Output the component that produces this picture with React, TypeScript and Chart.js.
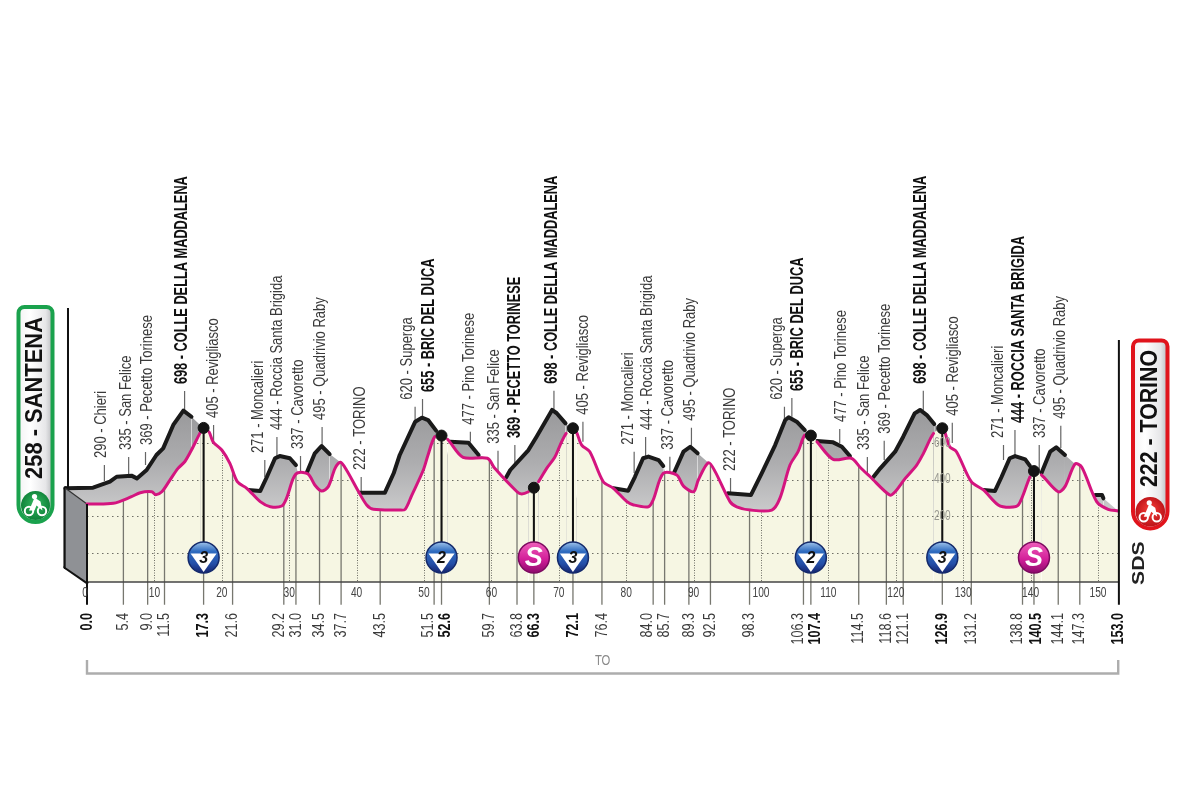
import React, { useEffect, useRef } from "react";
import { Chart, registerables } from "chart.js";

Chart.register(...registerables);

// ---------- data (km / metres) ----------
const routeKm = [0, 3.9, 6.6, 7.9, 9.6, 10.2, 11.1, 12.3, 13.5, 14.5, 15.5, 16.8, 17.3, 18.1, 18.7, 20, 21.2, 22.3, 23.7, 25.7, 27.2, 28.9, 29.6, 30.6, 31.3, 32.8, 33.8, 34.8, 35.8, 36.8, 37.6, 38.5, 40.3, 41.5, 42.5, 46.4, 47.2, 48.2, 49.9, 50.6, 51.6, 52.6, 53.5, 55.8, 59.4, 60.5, 63.8, 64.5, 65.5, 66.3, 67, 68.2, 69.4, 70.2, 71.1, 72.1, 72.6, 73.4, 74.6, 76.6, 78.1, 80.1, 81.1, 83.3, 84, 85.5, 87.5, 88.5, 90, 90.7, 92.2, 93.2, 95.4, 96.4, 98.4, 101.6, 102.8, 104.3, 105.5, 106.5, 107.4, 108.3, 110.7, 113.4, 114.7, 116.2, 119.1, 119.9, 121.4, 123.1, 124.1, 125.6, 126.9, 127.3, 128, 129, 131.2, 133, 135.2, 136.9, 138.2, 139.9, 140.5, 141.6, 144.1, 145.1, 146.6, 147.6, 149.8, 151.5, 153];
const routeAlt = [266, 270, 306, 328, 333, 317, 333, 397, 461, 497, 561, 656, 682, 661, 606, 561, 488, 388, 352, 279, 251, 255, 297, 406, 437, 430, 370, 337, 361, 461, 494, 452, 333, 261, 237, 233, 237, 315, 452, 534, 634, 640, 620, 521, 516, 461, 333, 321, 333, 355, 388, 461, 521, 588, 652, 680, 661, 588, 552, 388, 352, 279, 261, 251, 288, 434, 425, 364, 333, 397, 492, 443, 279, 251, 233, 233, 297, 479, 552, 643, 640, 606, 510, 516, 467, 415, 315, 333, 406, 479, 543, 652, 680, 656, 579, 552, 388, 343, 261, 248, 261, 415, 446, 425, 333, 361, 485, 467, 279, 237, 228];

const ridgeKm = [-3.2, 0.9, 3.4, 4.4, 6.6, 7.4, 8.85, 10.3, 11.3, 12.8, 14.3, 15.5, 17.25, 18.5, 23.9, 25.7, 26.7, 27.9, 28.6, 30.1, 31, 31.3, 32, 32.6, 33.8, 34.8, 36, 37.6, 38.5, 40.3, 44.2, 45.5, 46.4, 48.7, 49.7, 50.6, 51.8, 52.5, 53.2, 53.9, 56.6, 58.1, 59.4, 60, 62.2, 62.8, 65.5, 66.7, 69, 69.7, 71, 71.8, 72.6, 78.1, 80.3, 81.3, 82.5, 83.3, 84.8, 85.5, 85.8, 86.5, 87.1, 88.5, 89.5, 90.6, 92.2, 93, 95.1, 98.5, 100.1, 102.1, 103.6, 104.1, 105.3, 106.5, 107.5, 107.9, 108.3, 110.7, 112, 113.2, 113.4, 114.2, 116.7, 117.7, 119.9, 121.1, 122.8, 123.6, 124.6, 125.7, 126.5, 127.3, 133, 134.7, 135.7, 136.9, 137.7, 139.2, 139.9, 140.6, 141, 141.6, 142.9, 143.8, 145.1, 146.6, 147.3, 149.6, 150.6, 150.8, 153];
const ridgeAlt = [352, 355, 388, 415, 421, 406, 452, 534, 570, 698, 776, 743, 681, 300, 343, 337, 415, 516, 528, 516, 479, 437, 300, 437, 543, 583, 539, 494, 300, 328, 328, 434, 534, 716, 738, 725, 667, 639, 500, 606, 601, 534, 516, 300, 412, 452, 561, 634, 780, 762, 707, 680, 300, 352, 339, 415, 516, 525, 506, 474, 437, 300, 437, 552, 579, 543, 492, 300, 325, 315, 434, 588, 725, 740, 716, 670, 639, 500, 610, 603, 579, 528, 516, 300, 415, 461, 552, 634, 761, 780, 752, 703, 680, 300, 343, 337, 415, 516, 528, 510, 474, 446, 300, 434, 552, 576, 534, 485, 300, 315, 315, 297, 228];
// 1 = the segment that starts at this point is inked black
const ridgeInk = [1, 1, 1, 1, 1, 1, 1, 1, 1, 1, 1, 0, 0, 0, 1, 1, 1, 1, 1, 1, 0, 0, 0, 1, 1, 1, 0, 0, 0, 1, 1, 1, 1, 1, 1, 1, 0, 0, 0, 1, 1, 0, 0, 0, 1, 1, 1, 1, 1, 1, 0, 0, 0, 1, 1, 1, 1, 1, 1, 0, 0, 0, 1, 1, 1, 0, 0, 0, 1, 1, 1, 1, 1, 1, 1, 0, 0, 0, 1, 1, 1, 0, 0, 0, 1, 1, 1, 1, 1, 1, 1, 0, 0, 0, 1, 1, 1, 1, 1, 1, 0, 0, 0, 1, 1, 1, 0, 0, 0, 1, 1, 0, 0];

const wayKm = [5.4, 9.0, 11.5, 17.3, 21.6, 29.2, 31.0, 34.5, 37.7, 43.5, 51.5, 52.6, 59.7, 63.8, 66.3, 72.1, 76.4, 84.0, 85.7, 89.3, 92.5, 98.3, 106.3, 107.4, 114.5, 118.6, 121.1, 126.9, 131.2, 138.8, 140.5, 144.1, 147.3];
const wayName = ["290 - Chieri", "335 - San Felice", "369 - Pecetto Torinese", "698 - COLLE DELLA MADDALENA", "405 - Revigliasco", "271 - Moncalieri", "444 - Roccia Santa Brigida", "337 - Cavoretto", "495 - Quadrivio Raby", "222 - TORINO", "620 - Superga", "655 - BRIC DEL DUCA", "477 - Pino Torinese", "335 - San Felice", "369 - PECETTO TORINESE", "698 - COLLE DELLA MADDALENA", "405 - Revigliasco", "271 - Moncalieri", "444 - Roccia Santa Brigida", "337 - Cavoretto", "495 - Quadrivio Raby", "222 - TORINO", "620 - Superga", "655 - BRIC DEL DUCA", "477 - Pino Torinese", "335 - San Felice", "369 - Pecetto Torinese", "698 - COLLE DELLA MADDALENA", "405 - Revigliasco", "271 - Moncalieri", "444 - ROCCIA SANTA BRIGIDA", "337 - Cavoretto", "495 - Quadrivio Raby"];
const wayBold = [0, 0, 0, 1, 0, 0, 0, 0, 0, 0, 0, 1, 0, 0, 1, 1, 0, 0, 0, 0, 0, 0, 0, 1, 0, 0, 0, 1, 0, 0, 1, 0, 0];
const wayStemTop = [479, 523, 550, 883, 698, 506, 632, 528, 687, 414, 798, 840, 661, 557, 588, 885, 716, 552, 632, 525, 683, 408, 798, 845, 676, 523, 612, 885, 710, 588, 670, 588, 694];
const wayStemBase = [392, 419, 479, 780, 605, 414, 523, 441, 578, 326, 716, 741, 606, 435, 490, 785, 606, 435, 528, 443, 585, 326, 734, 743, 599, 435, 506, 780, 599, 506, 525, 452, 572];
// km on the axis where each rotated place name sits (names fan out from their stems)
const wayTextKm = [2.2, 5.9, 8.9, 14.1, 18.8, 25.5, 28.3, 31.3, 34.7, 40.5, 47.6, 50.7, 56.7, 60.4, 63.5, 69.0, 73.7, 80.4, 83.1, 86.2, 89.5, 95.4, 102.5, 105.5, 111.9, 115.4, 118.5, 123.7, 128.5, 135.2, 138.3, 141.4, 144.4];
// km on the axis where each rotated distance sits
const wayDistTextKm = [5.4, 9.0, 11.4, 17.3, 21.6, 28.5, 31.1, 34.5, 37.7, 43.5, 50.6, 53.1, 59.7, 63.8, 66.3, 72.1, 76.4, 83.2, 85.7, 89.3, 92.5, 98.3, 105.6, 108.0, 114.5, 118.6, 121.1, 126.9, 131.2, 138.1, 140.8, 144.1, 147.3];

const climbKm = [17.3, 52.6, 66.3, 72.1, 107.4, 126.9, 140.5];
const climbAlt = [682, 640, 355, 680, 640, 680, 446];
const climbBadge = ["3", "2", "S", "3", "2", "3", "S"];

const kmAxisTicks = [0, 10, 20, 30, 40, 50, 60, 70, 80, 90, 100, 110, 120, 130, 140, 150];
const altAxisTicks = [200, 400, 600];
const altGridLines = [0, 200, 400, 600];
const wallKm = [-3.2, 0];
const wallTopAlt = [352, 266];
const wallFootAlt = [-79, -160];
const startLabel = "258 - SANTENA";
const finishLabel = "222 - TORINO";
const bracketLabel = "TO";
const logoLabel = "SDS";

// ---------- layout of the page ----------
const W = 1200, H = 799;
const PX_KM = 6.74, X0 = 87, Y0 = 552.7, PX_M = 0.183;
const BASE = -160, FOOT = -285, KM_TEXT = -330, BADGE = -26;
const LABEL_SHIFT = 2.82;
const SANS = '"Liberation Sans", Arial, sans-serif';
const PINK = "#d4147f";
const CREAM = "#f6f6e3";

const pairs = (xs: number[], ys: number[]) => xs.map((x, i) => ({ x, y: ys[i] }));
const vLines = (items: { x: number; a: number; b: number }[]) =>
  items.flatMap((l) => [{ x: l.x, y: l.a }, { x: l.x, y: l.b }, { x: l.x, y: null as any }]);

function vText(ctx: CanvasRenderingContext2D, text: string, x: number, y: number, font: string, color: string, squeeze: number, align: CanvasTextAlign = "left") {
  ctx.save();
  ctx.translate(x, y);
  ctx.rotate(-Math.PI / 2);
  ctx.scale(squeeze, 1);
  ctx.font = font;
  ctx.fillStyle = color;
  ctx.textAlign = align;
  ctx.textBaseline = "middle";
  ctx.fillText(text, 0, 0);
  ctx.restore();
}

function hText(ctx: CanvasRenderingContext2D, text: string, x: number, y: number, font: string, color: string, squeeze: number) {
  ctx.save();
  ctx.translate(x, y);
  ctx.scale(squeeze, 1);
  ctx.font = font;
  ctx.fillStyle = color;
  ctx.textAlign = "center";
  ctx.textBaseline = "middle";
  ctx.fillText(text, 0, 0);
  ctx.restore();
}

function bike(ctx: CanvasRenderingContext2D, cx: number, cy: number) {
  ctx.save();
  ctx.strokeStyle = "#fff";
  ctx.fillStyle = "#fff";
  ctx.lineWidth = 2;
  for (const dx of [-6.5, 6.5]) {
    ctx.beginPath();
    ctx.arc(cx + dx, cy + 4.5, 4.2, 0, Math.PI * 2);
    ctx.stroke();
  }
  ctx.beginPath();
  ctx.moveTo(cx - 6.5, cy + 4);
  ctx.lineTo(cx - 3, cy - 4);
  ctx.lineTo(cx - 1, cy - 9);
  ctx.lineTo(cx + 5, cy - 5);
  ctx.lineTo(cx + 7, cy + 4);
  ctx.lineTo(cx + 1, cy - 1);
  ctx.lineTo(cx - 1, cy + 4);
  ctx.closePath();
  ctx.fill();
  ctx.beginPath();
  ctx.arc(cx - 1, cy - 10, 2.6, 0, Math.PI * 2);
  ctx.fill();
  ctx.restore();
}

function pill(ctx: CanvasRenderingContext2D, x: number, y: number, w: number, h: number, rim: string, inner: string, disc: string, text: string, textY: number, textLen: number) {
  ctx.save();
  const g = ctx.createLinearGradient(x, 0, x + w, 0);
  g.addColorStop(0, "#f3f3f3");
  g.addColorStop(0.35, "#ffffff");
  g.addColorStop(0.8, "#e6e6e8");
  g.addColorStop(1, "#b9bbbe");
  ctx.beginPath();
  ctx.roundRect(x, y, w, h, [6, 6, w / 2, w / 2]);
  ctx.fillStyle = g;
  ctx.fill();
  ctx.lineWidth = 4;
  ctx.strokeStyle = rim;
  ctx.stroke();
  const cx = x + w / 2, cy = y + h - w / 2 + 0.5;
  ctx.beginPath();
  ctx.arc(cx, cy, w / 2 - 2.5, 0, Math.PI * 2);
  const rg = ctx.createRadialGradient(cx, cy - 3, 2, cx, cy, w / 2);
  rg.addColorStop(0, disc);
  rg.addColorStop(1, inner);
  ctx.fillStyle = rg;
  ctx.fill();
  bike(ctx, cx, cy + 1);
  ctx.font = `bold 24px ${SANS}`;
  const k = textLen / ctx.measureText(text).width;
  vText(ctx, text, cx, textY, `bold 24px ${SANS}`, "#111", k);
  ctx.restore();
}

function badge(ctx: CanvasRenderingContext2D, cx: number, cy: number, kind: string) {
  const r = 15.5;
  ctx.save();
  ctx.beginPath();
  ctx.arc(cx, cy, r, 0, Math.PI * 2);
  if (kind === "S") {
    const g = ctx.createLinearGradient(0, cy - r, 0, cy + r);
    g.addColorStop(0, "#ef5fbb");
    g.addColorStop(0.55, "#d3209a");
    g.addColorStop(1, "#8d0b6c");
    ctx.fillStyle = g;
    ctx.fill();
    ctx.lineWidth = 1.5;
    ctx.strokeStyle = "#7c0a5f";
    ctx.stroke();
    ctx.font = `italic bold 27px ${SANS}`;
    ctx.fillStyle = "#fff";
    ctx.textAlign = "center";
    ctx.textBaseline = "middle";
    ctx.fillText("S", cx, cy + 1);
  } else {
    const g = ctx.createLinearGradient(0, cy - r, 0, cy + r);
    g.addColorStop(0, "#9fc3ea");
    g.addColorStop(0.3, "#2f6cc0");
    g.addColorStop(0.7, "#244fa8");
    g.addColorStop(1, "#16246f");
    ctx.fillStyle = g;
    ctx.fill();
    ctx.lineWidth = 1.5;
    ctx.strokeStyle = "#142a6b";
    ctx.stroke();
    ctx.beginPath();
    ctx.moveTo(cx - 13, cy - 4);
    ctx.lineTo(cx + 13, cy - 4);
    ctx.lineTo(cx, cy + 14.5);
    ctx.closePath();
    ctx.fillStyle = "#fff";
    ctx.fill();
    ctx.font = `italic bold 16px ${SANS}`;
    ctx.fillStyle = "#111";
    ctx.textAlign = "center";
    ctx.textBaseline = "middle";
    ctx.fillText(kind, cx, cy + 1);
  }
  ctx.restore();
}

const decor = {
  id: "stageDecor",
  // runs after the filler painted the cream area and before the pink line is stroked
  beforeDatasetDraw(chart: any, args: any) {
    if (chart.data.datasets[args.index].label !== "route") return;
    const { ctx, scales: { x, y } } = chart;
    const base = y.getPixelForValue(BASE);
    const pts = args.meta.data;
    ctx.save();
    ctx.beginPath();
    ctx.moveTo(pts[0].x, pts[0].y);
    for (let i = 1; i < pts.length; i++) {
      ctx.bezierCurveTo(pts[i - 1].cp2x, pts[i - 1].cp2y, pts[i].cp1x, pts[i].cp1y, pts[i].x, pts[i].y);
    }
    ctx.lineTo(x.getPixelForValue(153), base);
    ctx.lineTo(x.getPixelForValue(0), base);
    ctx.closePath();
    ctx.clip();
    ctx.lineWidth = 1;
    ctx.strokeStyle = "#6f6f66";
    ctx.setLineDash([1.5, 3.5]);
    for (const a of altGridLines) {
      const py = Math.round(y.getPixelForValue(a)) + 0.5;
      ctx.beginPath();
      ctx.moveTo(x.getPixelForValue(0), py);
      ctx.lineTo(x.getPixelForValue(153), py);
      ctx.stroke();
    }
    ctx.setLineDash([1, 1.5]);
    for (const k of kmAxisTicks.slice(1)) {
      const px = Math.round(x.getPixelForValue(k)) + 0.5;
      ctx.beginPath();
      ctx.moveTo(px, 300);
      ctx.lineTo(px, base);
      ctx.stroke();
    }
    ctx.setLineDash([]);
    ctx.lineWidth = 1.3;
    ctx.strokeStyle = "#77776f";
    for (const k of wayKm) {
      const px = x.getPixelForValue(k);
      ctx.beginPath();
      ctx.moveTo(px, 300);
      ctx.lineTo(px, base);
      ctx.stroke();
    }
    ctx.restore();
  },
  afterDatasetsDraw(chart: any) {
    const { ctx, scales: { x, y } } = chart;
    ctx.save();
    wayKm.forEach((k, i) => {
      const bold = !!wayBold[i];
      const font = bold ? `bold 17.5px ${SANS}` : `16.5px ${SANS}`;
      const px = x.getPixelForValue(wayTextKm[i]);
      const py = y.getPixelForValue(wayStemTop[i]) - 7;
      vText(ctx, wayName[i], px, py, font, bold ? "#111" : "#3a3a3a", bold ? 0.73 : 0.787);
    });
    wayKm.forEach((k, i) => {
      const bold = !!wayBold[i];
      vText(ctx, k.toFixed(1), x.getPixelForValue(wayDistTextKm[i]), y.getPixelForValue(KM_TEXT), bold ? `bold 17px ${SANS}` : `17px ${SANS}`, bold ? "#111" : "#3a3a3a", 0.74, "right");
    });
    for (const k of [0, 153]) {
      vText(ctx, k.toFixed(1), x.getPixelForValue(k), y.getPixelForValue(KM_TEXT), `bold 17px ${SANS}`, "#111", 0.74, "right");
    }
    for (const t of x.ticks) {
      hText(ctx, String(t.value), x.getPixelForValue(t.value) - (t.value === 0 ? 2 : 0), y.getPixelForValue(BASE) + 11, `15px ${SANS}`, "#444", 0.68);
    }
    for (const t of y.ticks) {
      hText(ctx, String(t.value), x.getPixelForValue(climbKm[5]), y.getPixelForValue(t.value), `14px ${SANS}`, "#9a9a92", 0.72);
    }
    climbKm.forEach((k, i) => badge(ctx, x.getPixelForValue(k), y.getPixelForValue(BADGE), climbBadge[i]));
    pill(ctx, 18.5, 307, 34, 215, "#1aa24d", "#0b7a34", "#2fb25c", startLabel, 479, 162);
    pill(ctx, 1133, 340.5, 34.5, 188, "#e0141c", "#b50d14", "#ef3a34", finishLabel, 487, 137);
    hText(ctx, bracketLabel, x.getPixelForValue(76.5), y.getPixelForValue(-592), `15px ${SANS}`, "#8a8a8a", 0.75);
    vText(ctx, logoLabel, 1139.5, 585, `bold 17px ${SANS}`, "#222", 1.25);
    ctx.restore();
  },
};

export default function App() {
  const ref = useRef<HTMLCanvasElement>(null);
  useEffect(() => {
    const c = ref.current!;
    const ctx = c.getContext("2d")!;
    const ribbon = ctx.createLinearGradient(0, 405, 0, 510);
    ribbon.addColorStop(0, "#979799");
    ribbon.addColorStop(0.55, "#adadaf");
    ribbon.addColorStop(1, "#c9c9ca");
    const none = { pointRadius: 0, pointHoverRadius: 0, fill: false, tension: 0 };
    const data = {
      datasets: [
        { label: "route", order: 2, data: pairs(routeKm, routeAlt), ...none, tension: 0.3, borderColor: PINK, borderWidth: 3, borderJoinStyle: "round", borderCapStyle: "round", fill: { value: BASE }, backgroundColor: CREAM,
          segment: { borderColor: (s: any) => (climbKm.includes(routeKm[s.p0DataIndex]) || climbKm.includes(routeKm[s.p1DataIndex]) ? "transparent" : PINK) } },
        { label: "climb stems", order: 1, data: vLines(climbKm.map((k, i) => ({ x: k, a: climbAlt[i], b: BADGE }))), ...none, borderColor: "#111", borderWidth: 2 },
        { label: "climb dots", order: 0, data: pairs(climbKm, climbAlt), showLine: false, pointRadius: 5.5, pointBackgroundColor: "#141414", pointBorderColor: "#141414", fill: false },
        { label: "wall top", order: 3, data: pairs(wallKm, wallTopAlt), ...none, fill: "+1", backgroundColor: "#8f9195", borderColor: "#333", borderWidth: 1.2 },
        { label: "wall foot", order: 3, data: pairs(wallKm, wallFootAlt), ...none, borderColor: "#111", borderWidth: 4, borderCapStyle: "round" },
        { label: "wall edges", order: 3, data: vLines([{ x: wallKm[0], a: wallTopAlt[0], b: wallFootAlt[0] }]), ...none, borderColor: "#111", borderWidth: 4, borderCapStyle: "round" },
        { label: "ridge", order: 4, data: pairs(ridgeKm, ridgeAlt), ...none, fill: { value: wallFootAlt[0] }, backgroundColor: ribbon, borderColor: "#1a1a1a", borderWidth: 4, borderJoinStyle: "round", borderCapStyle: "round",
          segment: { borderColor: (s: any) => (ridgeInk[s.p0DataIndex] ? "#1a1a1a" : "transparent") } },
        { label: "label stems", order: 5, data: vLines(wayKm.map((k, i) => ({ x: k - LABEL_SHIFT, a: wayStemTop[i], b: wayStemBase[i] }))), ...none, borderColor: "#666", borderWidth: 1.2 },
        { label: "km stubs", order: 6, data: vLines(wayKm.map((k) => ({ x: k, a: BASE, b: FOOT }))), ...none, borderColor: "#77776f", borderWidth: 1.3 },
        { label: "end stubs", order: 1, data: vLines([{ x: 0, a: wallTopAlt[1], b: FOOT }, { x: 153.1, a: 1162, b: FOOT }, { x: -2.82, a: 1337, b: 353 }]), ...none, borderColor: "#111", borderWidth: 2 },
        { label: "baseline", order: 1, data: pairs([0, 153], [BASE, BASE]), ...none, borderColor: "#444", borderWidth: 1.5 },
        { label: "bracket", order: 1, data: pairs([0, 0, 153, 153], [-586, -660, -660, -586]), ...none, borderColor: "#adadad", borderWidth: 2.4, borderJoinStyle: "miter" },
      ],
    };
    const chart = new Chart(c, {
      type: "line",
      data: data as any,
      plugins: [decor as any],
      options: {
        animation: false,
        responsive: false,
        devicePixelRatio: 1,
        layout: { padding: 0, autoPadding: false },
        plugins: { legend: { display: false }, tooltip: { enabled: false }, title: { display: false } },
        events: [],
        scales: {
          x: {
            type: "linear",
            min: -X0 / PX_KM,
            max: (W - X0) / PX_KM,
            position: { y: BASE } as any,
            grid: { display: false, drawTicks: false },
            border: { display: false },
            afterBuildTicks: (a: any) => { a.ticks = kmAxisTicks.map((value) => ({ value })); },
            ticks: { display: false, autoSkip: false, maxRotation: 0 },
          },
          y: {
            type: "linear",
            min: (Y0 - H) / PX_M,
            max: Y0 / PX_M,
            position: { x: climbKm[5] } as any,
            grid: { display: false, drawTicks: false },
            border: { display: false },
            afterBuildTicks: (a: any) => { a.ticks = altAxisTicks.map((value) => ({ value })); },
            ticks: { display: false, autoSkip: false },
          },
        },
      },
    });
    return () => chart.destroy();
  }, []);
  return <canvas ref={ref} width={W} height={H} style={{ position: "absolute", left: 0, top: 0, width: W, height: H, display: "block" }} />;
}
